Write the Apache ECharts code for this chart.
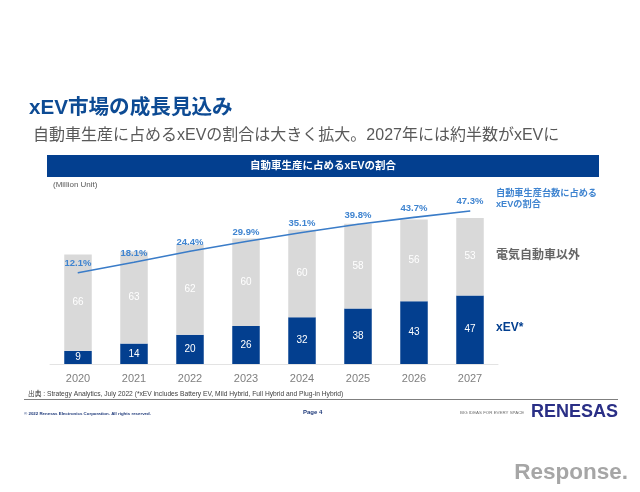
<!DOCTYPE html>
<html><head><meta charset="utf-8">
<style>html,body{margin:0;padding:0;background:#fff}#c{width:640px;height:492px}</style>
<script src="https://cdn.jsdelivr.net/npm/echarts@6/dist/echarts.min.js"></script>
</head><body><div id="c"></div>
<script>
const years = ['2020','2021','2022','2023','2024','2025','2026','2027'];
const xevUnits = [9,14,20,26,32,38,43,47];
const otherUnits = [66,63,62,60,60,58,56,53];
const xevShare = [12.1,18.1,24.4,29.9,35.1,39.8,43.7,47.3];
const FONT = '"Liberation Sans","Noto Sans CJK JP",sans-serif';
const NAVY = '#033f8f', BLUE = '#3f84d0', GREY = '#d9d9d9';
function t(x,y,text,size,fill,weight,align,extra){
  return {type:'text',x,y,silent:true,style:Object.assign({text,fontFamily:FONT,fontSize:size,fill,fontWeight:weight||'normal',textAlign:align||'left',textVerticalAlign:'middle'},extra||{})};
}
const chart = echarts.init(document.getElementById('c'),null,{renderer:'canvas'});
chart.setOption({
  backgroundColor:'#fff',animation:false,
  grid:{left:50,width:448,top:188.8,height:175.2,containLabel:false},
  xAxis:{type:'category',data:years,axisTick:{show:false},
    axisLine:{lineStyle:{color:'#e3e3e3',width:1}},
    axisLabel:{color:'#7f7f7f',fontSize:11,fontFamily:FONT,margin:9}},
  yAxis:[
    {type:'value',min:0,max:120,show:false,splitLine:{show:false}},
    {type:'value',min:-40,max:60,show:false,splitLine:{show:false}}
  ],
  series:[
    {type:'bar',name:'xEV*',stack:'u',data:xevUnits,barWidth:27.5,itemStyle:{color:NAVY},
     label:{show:true,position:'inside',color:'#fff',fontSize:10,fontFamily:FONT}},
    {type:'bar',name:'電気自動車以外',stack:'u',data:otherUnits,barWidth:27.5,itemStyle:{color:GREY},
     label:{show:true,position:'inside',color:'#fff',fontSize:10,fontFamily:FONT}},
    {type:'line',name:'自動車生産台数に占めるxEVの割合',yAxisIndex:1,data:xevShare,symbol:'circle',symbolSize:1,showSymbol:true,showAllSymbol:true,z:5,
     itemStyle:{color:'#3a7cc8'},
     lineStyle:{color:'#3a7cc8',width:1.6},
     label:{show:true,position:'top',distance:4,color:BLUE,fontSize:9.5,fontWeight:'bold',fontFamily:FONT,formatter:p=>p.value.toFixed(1)+'%'}}
  ],
  graphic:[
    t(29,108,'xEV市場の成長見込み',20.6,'#0d4b94','bold'),
    t(33,136,'自動車生産に占めるxEVの割合は大きく拡大。2027年には約半数がxEVに',16,'#595959'),
    {type:'rect',silent:true,shape:{x:47,y:155,width:552,height:22},style:{fill:NAVY}},
    t(323,166.5,'自動車生産に占めるxEVの割合',10.5,'#fff','bold','center'),
    t(53,185,'(Million Unit)',8,'#595959'),
    t(496,193,'自動車生産台数に占める',9.2,BLUE,'bold'),
    t(496,204,'xEVの割合',9.2,BLUE,'bold'),
    t(496,256,'電気自動車以外',12,'#666666','bold'),
    t(496,328,'xEV*',12,NAVY,'bold'),
    t(28,394,'出典 : Strategy Analytics, July 2022 (*xEV includes Battery EV, Mild Hybrid, Full Hybrid and Plug-in Hybrid)',6.7,'#404040'),
    {type:'line',silent:true,shape:{x1:24,y1:399.5,x2:618,y2:399.5},style:{stroke:'#7f7f7f',lineWidth:1}},
    t(24,414,'© 2022 Renesas Electronics Corporation. All rights reserved.',4.4,'#1f3a7a','bold'),
    t(303,412.5,'Page 4',6,'#1f3a7a','bold'),
    t(460,413,'BIG IDEAS FOR EVERY SPACE',4.4,'#6b6b6b'),
    t(618,412,'RENESAS',18,'#2a2f86','bold','right'),
    t(628,473,'Response.',22.5,'#a6a6a6','bold','right')
  ]
});
</script></body></html>
